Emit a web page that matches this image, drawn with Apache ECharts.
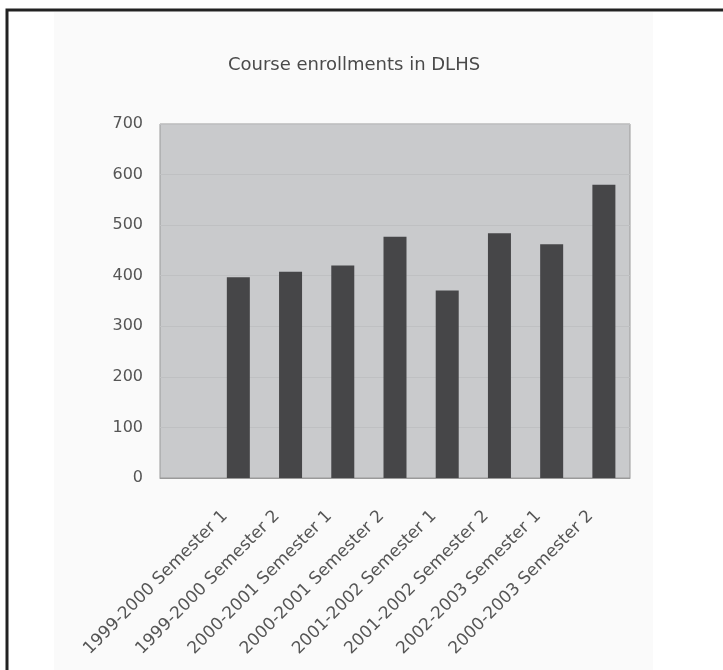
<!DOCTYPE html>
<html>
<head>
<meta charset="utf-8">
<script src="https://cdn.jsdelivr.net/npm/echarts@6/dist/echarts.min.js"></script>
<style>
  html, body { margin: 0; padding: 0; background: #ffffff; }
  #chart { width: 723px; height: 670px; }
</style>
</head>
<body>
<div id="chart"></div>
<script>
// first slot is left empty in the original
const semesters = [
  "",
  "1999-2000 Semester 1",
  "1999-2000 Semester 2",
  "2000-2001 Semester 1",
  "2000-2001 Semester 2",
  "2001-2002 Semester 1",
  "2001-2002 Semester 2",
  "2002-2003 Semester 1",
  "2000-2003 Semester 2",
];
const enrollments = [null, 397, 408, 420, 477, 371, 484, 462, 580];

const chart = echarts.init(document.getElementById("chart"), null, { renderer: "canvas" });

const font = "DejaVu Sans, Liberation Sans, sans-serif";

const option = {
  animation: false,
  backgroundColor: "#ffffff",
  graphic: [
    {
      type: "rect",
      z: -10,
      shape: { x: 54, y: 12, width: 599, height: 670 },
      style: { fill: "#fafafa" },
    },
    {
      type: "rect",
      z: 100,
      shape: { x: 7, y: 10, width: 740, height: 700 },
      style: { fill: null, stroke: "#222222", lineWidth: 3 },
    },
  ],
  title: {
    text: "Course enrollments in DLHS",
    left: 349,
    top: 51,
    textAlign: "center",
    textStyle: {
      fontFamily: font,
      fontSize: 18,
      fontWeight: "normal",
      color: "#4a4a4a",
    },
  },
  grid: {
    left: 160,
    right: 93,
    top: 124,
    bottom: 192,
    show: true,
    backgroundColor: "#c9cacc",
    borderColor: "#9a9a9a",
    borderWidth: 1,
  },
  xAxis: {
    type: "category",
    data: semesters,
    boundaryGap: true,
    axisLine: { show: true, lineStyle: { color: "#9a9a9a" } },
    axisTick: { show: false },
    axisLabel: {
      interval: 0,
      rotate: 45,
      margin: 22,
      padding: [0, 19, 0, 0],
      fontFamily: font,
      fontSize: 17,
      color: "#555555",
    },
  },
  yAxis: {
    type: "value",
    min: 0,
    max: 700,
    interval: 100,
    axisLine: { show: false },
    axisTick: { show: false },
    axisLabel: {
      margin: 17,
      fontFamily: font,
      fontSize: 16,
      color: "#555555",
    },
    splitLine: { show: true, lineStyle: { color: "#bfc0c2", width: 1 } },
  },
  series: [
    {
      name: "Enrollments",
      type: "bar",
      data: enrollments,
      barWidth: 23,
      itemStyle: { color: "#464648" },
    },
  ],
};

chart.setOption(option);
</script>
</body>
</html>
